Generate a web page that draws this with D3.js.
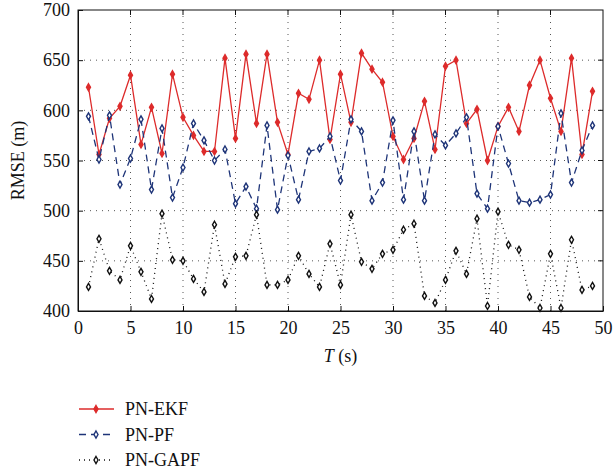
<!DOCTYPE html>
<html><head><meta charset="utf-8">
<script src="https://cdn.jsdelivr.net/npm/d3@7"></script>
<style>body{margin:0;background:#fff}svg{display:block}svg text{font-family:"Liberation Serif","DejaVu Serif",serif}</style>
</head><body>
<script>
const T = d3.range(1, 50);
const ekf = [623,556,592,604,635,566,603,557,636,593,575,559,559,652,572,656,587,656,588,556,617,611,650,571,636,588,657,641,628,574,551,572,609,561,644,650,587,601,550,584,603,579,625,650,612,579,652,556,619];
const pf = [594,551,595,526,552,591,521,582,513,543,587,570,550,561,507,524,502,585,501,555,511,559,562,574,530,591,579,510,528,590,511,579,510,576,565,577,593,517,502,584,547,510,508,511,516,597,528,560,585];
const gapf = [424,472,440,431,465,439,412,497,451,450,432,419,486,427,454,455,496,426,426,431,455,437,424,467,426,496,449,442,457,461,481,487,415,408,431,460,437,492,405,499,466,461,414,403,457,403,471,421,425];
const xTicks = [0,5,10,15,20,25,30,35,40,45,50];
const yTicks = [400,450,500,550,600,650,700];
const seriesNames = ["PN-EKF","PN-PF","PN-GAPF"];

const W=616,H=475;
const m={l:78,t:10,r:603,b:311};
const svg=d3.select("body").append("svg").attr("width",W).attr("height",H);
const x=d3.scaleLinear().domain([0,50]).range([m.l,m.r]);
const y=d3.scaleLinear().domain([400,700]).range([m.b,m.t]);
const fs="18px";
const ff='"Liberation Serif","DejaVu Serif",serif';

// grid
const g=svg.append("g");
g.selectAll(".gx").data(xTicks.slice(1,-1)).enter().append("line")
 .attr("x1",d=>x(d)).attr("x2",d=>x(d)).attr("y1",m.t).attr("y2",m.b)
 .attr("stroke","#555").attr("stroke-width",1).attr("stroke-dasharray","1,5");
g.selectAll(".gy").data(yTicks.slice(1,-1)).enter().append("line")
 .attr("y1",d=>y(d)).attr("y2",d=>y(d)).attr("x1",m.l).attr("x2",m.r)
 .attr("stroke","#555").attr("stroke-width",1).attr("stroke-dasharray","1,5");

// axes
const xa=svg.append("g").attr("transform",`translate(0,${m.b})`)
 .call(d3.axisBottom(x).tickValues(xTicks).tickSizeInner(-5).tickSizeOuter(0).tickPadding(10));
const ya=svg.append("g").attr("transform",`translate(${m.l},0)`)
 .call(d3.axisLeft(y).tickValues(yTicks).tickSizeInner(-5).tickSizeOuter(0).tickPadding(8));
[xa,ya].forEach(a=>{a.attr("font-family",null).attr("font-size",null);
 a.selectAll("text").style("font-family",ff).style("font-size",fs).attr("fill","#111");
 a.selectAll("line,path").attr("stroke","#111");});
svg.append("rect").attr("x",m.l).attr("y",m.t).attr("width",m.r-m.l).attr("height",m.b-m.t)
 .attr("fill","none").attr("stroke","#111").attr("stroke-width",1);
svg.selectAll(".tt").data(xTicks.slice(1,-1)).enter().append("line")
 .attr("x1",d=>x(d)).attr("x2",d=>x(d)).attr("y1",m.t).attr("y2",m.t+5).attr("stroke","#111");
svg.selectAll(".rt").data(yTicks.slice(1,-1)).enter().append("line")
 .attr("y1",d=>y(d)).attr("y2",d=>y(d)).attr("x1",m.r).attr("x2",m.r-5).attr("stroke","#111");

// labels
svg.append("text").attr("transform",`translate(24,${(m.t+m.b)/2}) rotate(-90)`).attr("text-anchor","middle")
 .style("font-family",ff).style("font-size",fs).attr("fill","#111").text("RMSE (m)");
const xl=svg.append("text").attr("x",(m.l+m.r)/2).attr("y",362).attr("text-anchor","middle")
 .style("font-family",ff).style("font-size",fs).attr("fill","#111");
xl.append("tspan").attr("font-style","italic").text("T");
xl.append("tspan").text(" (s)");

const series=[
 {name:seriesNames[0],data:ekf,color:"#dd2b2b",dash:null,fill:"#dd2b2b"},
 {name:seriesNames[1],data:pf,color:"#1e3478",dash:"7,5",fill:"#fff"},
 {name:seriesNames[2],data:gapf,color:"#111",dash:"1,4",fill:"#fff"}
];
const diamond=d3.symbol().type(d3.symbolDiamond).size(14);
const line=d3.line().x((d,i)=>x(T[i])).y(d=>y(d));
series.forEach(s=>{
 svg.append("path").datum(s.data).attr("d",line).attr("fill","none").attr("stroke",s.color)
  .attr("stroke-width",1.3).attr("stroke-dasharray",s.dash);
 svg.append("g").selectAll("path").data(s.data).enter().append("path")
  .attr("d",diamond).attr("transform",(d,i)=>`translate(${x(T[i])},${y(d)})`)
  .attr("fill",s.fill).attr("stroke",s.color).attr("stroke-width",1.4);
});

// legend
series.forEach((s,i)=>{
 const ly=409+i*25.5;
 svg.append("line").attr("x1",79).attr("x2",114).attr("y1",ly).attr("y2",ly)
  .attr("stroke",s.color).attr("stroke-width",1.3).attr("stroke-dasharray",s.dash);
 svg.append("path").attr("d",diamond).attr("transform",`translate(96,${ly})`)
  .attr("fill",s.fill).attr("stroke",s.color).attr("stroke-width",1.4);
 svg.append("text").attr("x",125).attr("y",ly+6).style("font-family",ff).style("font-size",fs)
  .attr("fill","#111").text(s.name);
});
</script>
</body></html>
